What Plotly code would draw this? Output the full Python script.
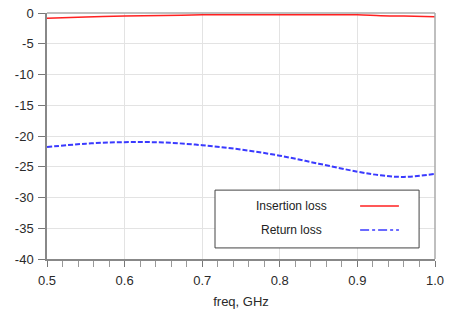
import plotly.graph_objects as go

freq = [0.50, 0.55, 0.60, 0.65, 0.70, 0.75, 0.80, 0.85, 0.90, 0.93, 0.96, 1.00]
insertion_loss = [-0.85, -0.65, -0.5, -0.4, -0.3, -0.28, -0.28, -0.28, -0.3, -0.45, -0.5, -0.6]
return_loss = [-21.8, -21.25, -21.0, -21.05, -21.5, -22.2, -23.2, -24.5, -25.8, -26.4, -26.65, -26.15]

y_ticks = [0, -5, -10, -15, -20, -25, -30, -35, -40]
y_labels = ["0", "-5", "-10", "-15", "-20", "-25", "-30", "-35", "-40"]
x_ticks = [0.5, 0.6, 0.7, 0.8, 0.9, 1.0]
x_labels = ["0.5", "0.6", "0.7", "0.8", "0.9", "1.0"]

fig = go.Figure()
fig.add_trace(go.Scatter(x=freq, y=insertion_loss, mode="lines", name="Insertion loss",
                         line=dict(color="#ff2020", width=1.5, shape="spline"), showlegend=False))
fig.add_trace(go.Scatter(x=freq, y=return_loss, mode="lines", name="Return loss",
                         line=dict(color="#3a3aff", width=2, dash="5px,2px", shape="spline"), showlegend=False))

font = dict(family="Liberation Sans, Arial, sans-serif", size=13, color="#2a2a2a")

fig.update_layout(
    width=453, height=318,
    margin=dict(l=47, r=18, t=13, b=59, autoexpand=False),
    paper_bgcolor="white", plot_bgcolor="white",
    font=font,
    xaxis=dict(range=[0.5, 1.0], tickvals=x_ticks, ticktext=x_labels,
               showgrid=True, gridcolor="#e3e3e3", gridwidth=1,
               showline=True, linecolor="#888888", linewidth=1.5, mirror=False,
               ticks="outside", ticklen=6, tickcolor="#777777", ticklabelstandoff=3,
               minor=dict(dtick=0.02, ticks="outside", ticklen=6, tickcolor="#999999", showgrid=False),
               title=dict(text="freq, GHz", font=dict(size=13, color="#2a2a2a"), standoff=10),
               automargin=False, zeroline=False, fixedrange=True),
    yaxis=dict(range=[-40, 0], tickvals=y_ticks, ticktext=y_labels,
               showgrid=True, gridcolor="#e3e3e3", gridwidth=1,
               showline=True, linecolor="#888888", linewidth=1.5,
               ticks="outside", ticklen=7, tickcolor="#777777", ticklabelstandoff=2,
               automargin=False, zeroline=False, fixedrange=True),
)

# top and right frame lines
fig.add_shape(type="line", xref="paper", yref="paper", x0=0, x1=1, y0=1, y1=1,
              line=dict(color="#aaaaaa", width=1.5))
fig.add_shape(type="line", xref="paper", yref="paper", x0=1, x1=1, y0=0, y1=1,
              line=dict(color="#aaaaaa", width=1.5))

# custom legend (text then line sample, as in the original)
fig.add_shape(type="rect", xref="paper", yref="paper", x0=0.433, x1=0.959, y0=0.045, y1=0.28,
              line=dict(color="#444444", width=1), fillcolor="white")
fig.add_annotation(xref="paper", yref="paper", x=0.631, y=0.215, text="Insertion loss",
                   showarrow=False, xanchor="center", yanchor="middle", font=dict(size=12, color="#222222"))
fig.add_annotation(xref="paper", yref="paper", x=0.631, y=0.118, text="Return loss",
                   showarrow=False, xanchor="center", yanchor="middle", font=dict(size=12, color="#222222"))
fig.add_shape(type="line", xref="paper", yref="paper", x0=0.807, x1=0.907, y0=0.215, y1=0.215,
              line=dict(color="#ff2020", width=1.5))
fig.add_shape(type="line", xref="paper", yref="paper", x0=0.807, x1=0.907, y0=0.118, y1=0.118,
              line=dict(color="#3a3aff", width=1.5, dash="dashdot"))

fig.write_html("out.html", config={"displayModeBar": False},
               post_script="document.body.style.margin='0';")
